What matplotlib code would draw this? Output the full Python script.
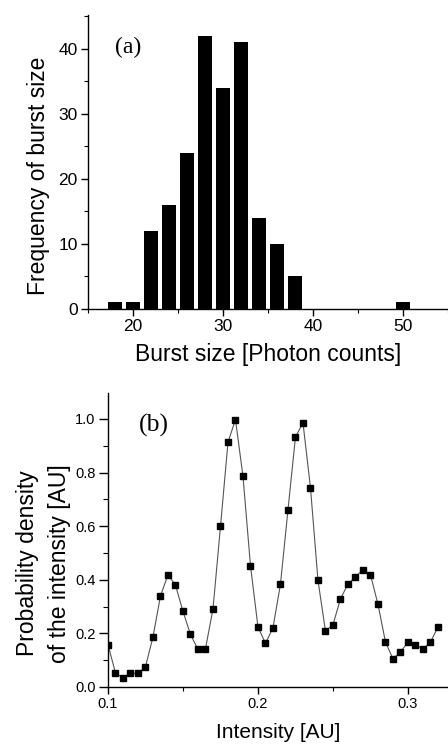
import numpy as np
import matplotlib.pyplot as plt
from matplotlib.ticker import MultipleLocator

# panel (a): burst size histogram
burst_size = [18, 20, 22, 24, 26, 28, 30, 32, 34, 36, 38, 50]
burst_freq = [1, 1, 12, 16, 24, 42, 34, 41, 14, 10, 5, 1]

# panel (b): intensity distribution
intensity = [0.100, 0.105, 0.110, 0.115, 0.120, 0.125, 0.130, 0.135, 0.140, 0.145,
             0.150, 0.155, 0.160, 0.165, 0.170, 0.175, 0.180, 0.185, 0.190, 0.195,
             0.200, 0.205, 0.210, 0.215, 0.220, 0.225, 0.230, 0.235, 0.240, 0.245,
             0.250, 0.255, 0.260, 0.265, 0.270, 0.275, 0.280, 0.285, 0.290, 0.295,
             0.300, 0.305, 0.310, 0.315, 0.320]
density = [0.158, 0.052, 0.035, 0.052, 0.051, 0.076, 0.187, 0.340, 0.419, 0.380,
           0.282, 0.196, 0.140, 0.143, 0.291, 0.599, 0.913, 0.998, 0.786, 0.453,
           0.224, 0.163, 0.221, 0.384, 0.661, 0.933, 0.986, 0.744, 0.398, 0.209,
           0.232, 0.329, 0.384, 0.410, 0.438, 0.419, 0.309, 0.168, 0.105, 0.131,
           0.167, 0.158, 0.142, 0.167, 0.224]

plt.rcParams['font.family'] = ['Liberation Sans', 'DejaVu Sans']

fig = plt.figure(figsize=(4.48, 7.44), dpi=100)

def style_axes(ax, tick_size):
    for side in ['top', 'right']:
        ax.spines[side].set_visible(False)
    for side in ['left', 'bottom']:
        ax.spines[side].set_linewidth(1.0)
    ax.tick_params(which='major', direction='out', length=5, width=1, labelsize=tick_size, pad=2.5)
    ax.tick_params(which='minor', direction='out', length=3, width=0.8)

"""PANEL (a)"""
ax1 = fig.add_axes([88/448, 1 - 309/744, 360/448, 294/744])
ax1.bar(burst_size, burst_freq, width=1.6, color='black')
ax1.set_xlim(15, 55)
ax1.set_ylim(0, 45.2)
ax1.xaxis.set_major_locator(MultipleLocator(10))
ax1.xaxis.set_minor_locator(MultipleLocator(5))
ax1.yaxis.set_major_locator(MultipleLocator(10))
ax1.yaxis.set_minor_locator(MultipleLocator(5))
style_axes(ax1, 12.5)
ax1.set_xlabel('Burst size [Photon counts]', fontsize=16.5)
ax1.set_ylabel('Frequency of burst size', fontsize=16.5)
ax1.xaxis.set_label_coords(0.5, -0.115)
ax1.yaxis.set_label_coords(-0.106, 0.452)
ax1.text(0.075, 0.89, '(a)', transform=ax1.transAxes, fontsize=17,
         family='Liberation Serif', va='center')

"""PANEL (b)"""
ax2 = fig.add_axes([108/448, 1 - 687/744, 340/448, 294/744])
ax2.plot(intensity, density, color='#555555', linewidth=0.8,
         marker='s', markersize=5, markerfacecolor='black', markeredgecolor='black')
ax2.set_xlim(0.1, 0.3267)
ax2.set_ylim(0, 1.097)
ax2.xaxis.set_major_locator(MultipleLocator(0.1))
ax2.xaxis.set_minor_locator(MultipleLocator(0.05))
ax2.yaxis.set_major_locator(MultipleLocator(0.2))
ax2.yaxis.set_minor_locator(MultipleLocator(0.1))
ax2.xaxis.set_major_formatter(plt.FormatStrFormatter('%.1f'))
ax2.yaxis.set_major_formatter(plt.FormatStrFormatter('%.1f'))
style_axes(ax2, 10.5)
ax2.tick_params(which='major', axis='y', length=6.5)
ax2.tick_params(which='minor', axis='y', length=3.5)
ax2.set_xlabel('Intensity [AU]', fontsize=15)
ax2.set_ylabel('Probability density\nof the intensity [AU]', fontsize=16.5,
               linespacing=1.5)
ax2.xaxis.set_label_coords(0.5, -0.122)
ax2.yaxis.set_label_coords(-0.109, 0.42)
ax2.text(0.09, 0.89, '(b)', transform=ax2.transAxes, fontsize=18.5,
         family='Liberation Serif', va='center')

fig.savefig('out.png', dpi=100)
